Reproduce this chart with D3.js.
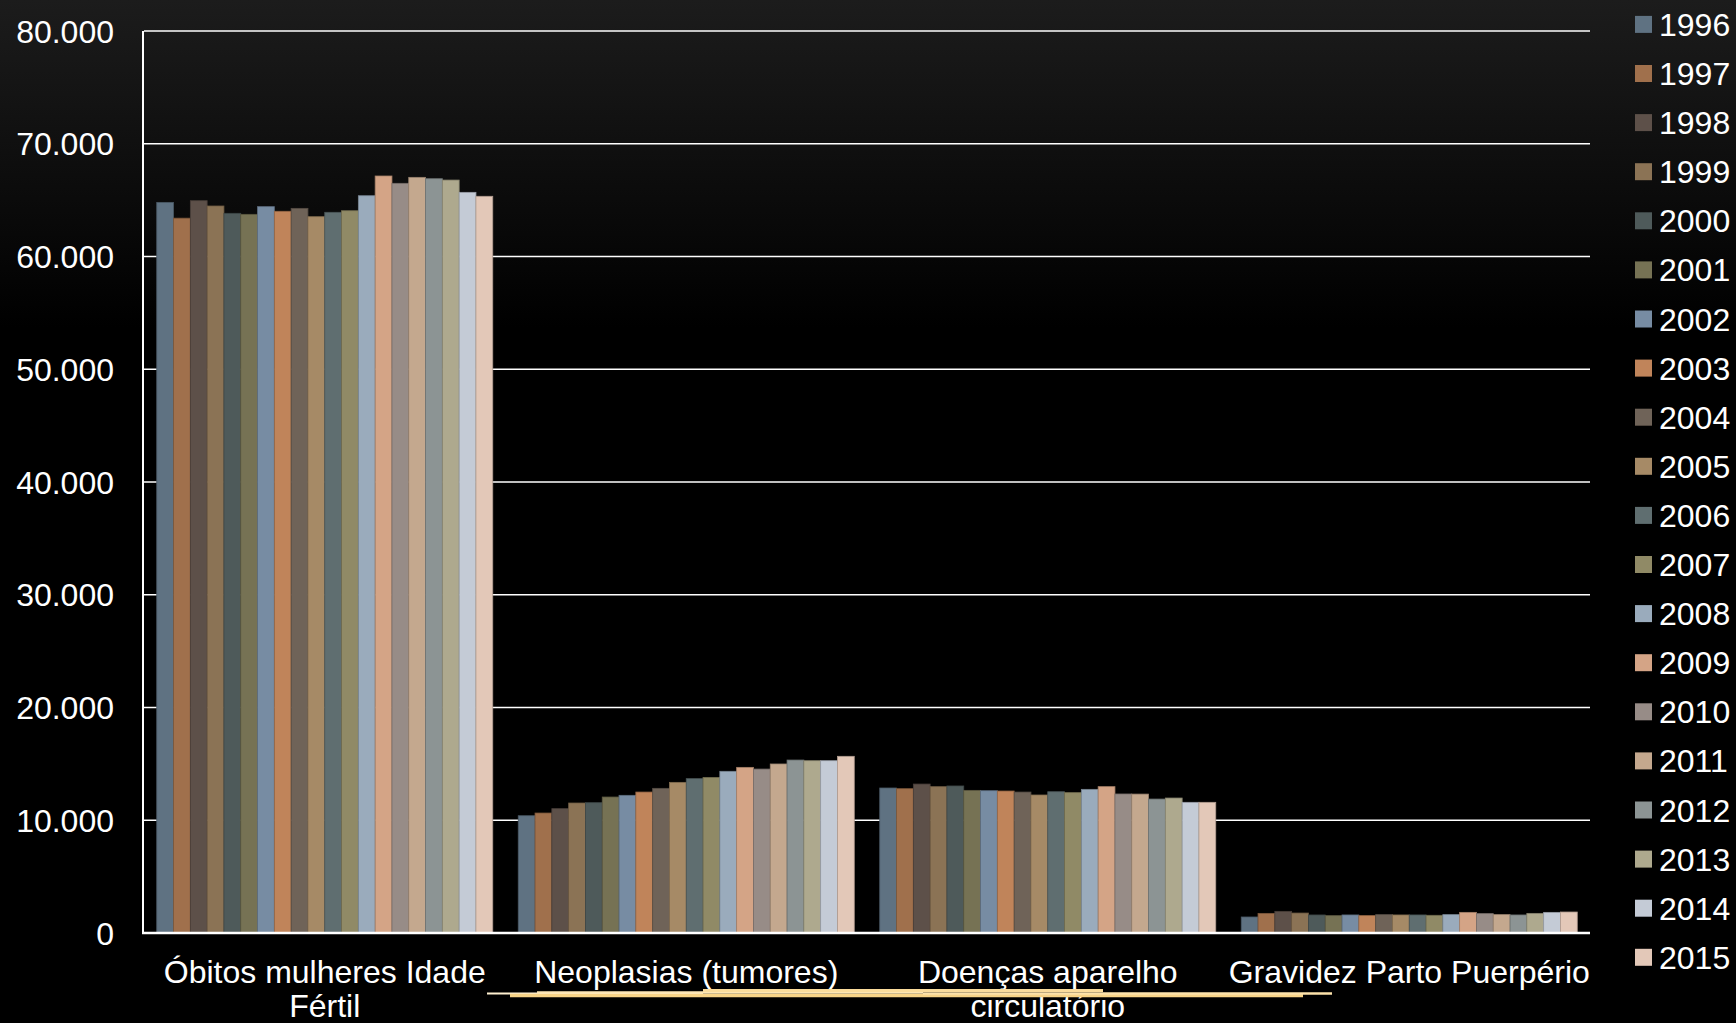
<!DOCTYPE html>
<html>
<head>
<meta charset="utf-8">
<script src="https://cdn.jsdelivr.net/npm/d3@7"></script>
<style>
  html, body { margin: 0; padding: 0; background: #000; }
  svg { display: block; }
</style>
</head>
<body>
<svg id="chart" width="1736" height="1023"></svg>
<script>
const categories = ["Óbitos mulheres Idade Fértil", "Neoplasias (tumores)", "Doenças aparelho circulatório", "Gravidez Parto Puerpério"];
const years = ["1996","1997","1998","1999","2000","2001","2002","2003","2004","2005","2006","2007","2008","2009","2010","2011","2012","2013","2014","2015"];
const obitosMIF   = [64800,63400,64950,64480,63830,63740,64420,64010,64270,63530,63920,64060,65390,67140,66490,67020,66900,66780,65690,65340];
const neoplasias  = [10400,10640,11030,11530,11560,12060,12210,12500,12830,13360,13690,13800,14340,14690,14540,14990,15340,15280,15280,15670];
const circulatorio= [12860,12800,13210,12980,13040,12650,12620,12590,12500,12240,12530,12450,12740,12980,12330,12320,11880,11970,11590,11590];
const gravidez    = [1420,1740,1920,1770,1600,1540,1600,1540,1630,1600,1600,1570,1630,1830,1720,1630,1600,1740,1830,1860];
const seriesValues = [obitosMIF, neoplasias, circulatorio, gravidez];
const yearColors = ["#5f7282","#a0704c","#5d5049","#8b7355","#4e5a5a","#767254","#778ca3","#c0845a","#6f6358","#a68a66","#5f6e70","#908a66","#9aabbc","#d4a486","#978c87","#c4a88e","#8c9494","#aea98e","#c4cbd6","#e3c8b8"];
const yTicks = [0,10000,20000,30000,40000,50000,60000,70000,80000];

const svg = d3.select("#chart");
const W = 1736, H = 1023;
const margin = {left: 144, right: 146, top: 31, bottom: 90};
const plotW = W - margin.left - margin.right;
const plotH = H - margin.top - margin.bottom;
const FONT = "'Liberation Sans', Arial, Helvetica, sans-serif";

// background gradient
const defs = svg.append("defs");
const grad = defs.append("linearGradient").attr("id","bg").attr("x1",0).attr("y1",0).attr("x2",0).attr("y2",1);
grad.append("stop").attr("offset","0%").attr("stop-color","#1c1c1c");
grad.append("stop").attr("offset","32%").attr("stop-color","#000");
grad.append("stop").attr("offset","100%").attr("stop-color","#000");
svg.append("rect").attr("width",W).attr("height",H).attr("fill","url(#bg)");

const g = svg.append("g").attr("transform",`translate(${margin.left},${margin.top})`);

const x0 = d3.scaleBand().domain(categories).range([0, plotW]).paddingInner(0.0705).paddingOuter(0.03525);
const x1 = d3.scaleBand().domain(years).range([0, x0.bandwidth()]).padding(0);
const y = d3.scaleLinear().domain([0, 80000]).range([plotH, 0]);
const color = d3.scaleOrdinal().domain(years).range(yearColors);

const loc = d3.formatLocale({decimal: ",", thousands: ".", grouping: [3], currency: ["",""]});
const fmt = loc.format(",");

// gridlines
g.append("g").selectAll("line").data(yTicks.filter(d => d > 0)).join("line")
  .attr("x1", 0).attr("x2", plotW)
  .attr("y1", d => y(d)).attr("y2", d => y(d))
  .attr("stroke", "#fff").attr("stroke-width", 1.5);

// bars
const groups = g.append("g").selectAll("g").data(categories).join("g")
  .attr("transform", d => `translate(${x0(d)},0)`);
groups.selectAll("rect").data((c, i) => years.map((yr, j) => ({yr, v: seriesValues[i][j]}))).join("rect")
  .attr("x", d => x1(d.yr))
  .attr("y", d => y(d.v))
  .attr("width", x1.bandwidth())
  .attr("height", d => plotH - y(d.v))
  .attr("fill", d => color(d.yr))
  .attr("stroke", d => d3.color(color(d.yr)).darker(0.7))
  .attr("stroke-width", 0.8);

// left axis line and baseline
g.append("line").attr("x1",-1).attr("x2",-1).attr("y1",0).attr("y2",plotH).attr("stroke","#fff").attr("stroke-width",2);
g.append("line").attr("x1",-2).attr("x2",plotW).attr("y1",plotH).attr("y2",plotH).attr("stroke","#fff").attr("stroke-width",2.5);

// y axis labels
const yAxis = d3.axisLeft(y).tickValues(yTicks).tickFormat(fmt).tickSize(0).tickPadding(30);
const ya = g.append("g").call(yAxis);
ya.select(".domain").remove();
ya.selectAll("text").attr("fill","#fff").style("font-family",FONT).style("font-size","32px").attr("dy","0.35em");

// x axis labels
const xAxis = d3.axisBottom(x0).tickSize(0).tickPadding(0);
const xa = g.append("g").attr("transform",`translate(0,${plotH})`).call(xAxis);
xa.select(".domain").remove();
xa.selectAll("text").attr("fill","#fff").style("font-family",FONT).style("font-size","32px")
  .attr("y", 50).attr("dy", 0).call(wrap, 380);

function wrap(texts, width) {
  texts.each(function() {
    const text = d3.select(this);
    const words = text.text().split(/\s+/);
    const yy = +text.attr("y");
    text.text(null);
    let line = [];
    let lineNo = 0;
    let tspan = text.append("tspan").attr("x",0).attr("y",yy);
    for (const w of words) {
      line.push(w);
      tspan.text(line.join(" "));
      if (tspan.node().getComputedTextLength() > width && line.length > 1) {
        line.pop();
        tspan.text(line.join(" "));
        line = [w];
        lineNo++;
        tspan = text.append("tspan").attr("x",0).attr("y", yy + lineNo*34).text(w);
      }
    }
  });
}

// decorative yellow underline strokes
const deco = [
  {x1:487, x2:703, y:993.5, c:"#fff0d0", w:2},
  {x1:510, x2:1303, y:995.5, c:"#f8d488", w:3.5},
  {x1:537, x2:923, y:992.5, c:"#fde6b4", w:2.5},
  {x1:703, x2:1103, y:990.5, c:"#fadc9c", w:3},
  {x1:923, x2:1332, y:993.5, c:"#fce2aa", w:2.5}
];
svg.append("g").selectAll("line").data(deco).join("line")
  .attr("x1", d=>d.x1).attr("x2", d=>d.x2).attr("y1", d=>d.y).attr("y2", d=>d.y)
  .attr("stroke", d=>d.c).attr("stroke-width", d=>d.w);

// legend
const legend = svg.append("g").attr("transform","translate(1635,24.4)");
const li = legend.selectAll("g").data(years).join("g").attr("transform",(d,i)=>`translate(0,${i*49.1})`);
li.append("rect").attr("x",0).attr("y",-8.5).attr("width",17).attr("height",17).attr("fill",d=>color(d));
li.append("text").attr("x",24).attr("y",0).attr("dy","0.36em").attr("fill","#fff")
  .style("font-family",FONT).style("font-size","32px").text(d=>d);
</script>
</body>
</html>
